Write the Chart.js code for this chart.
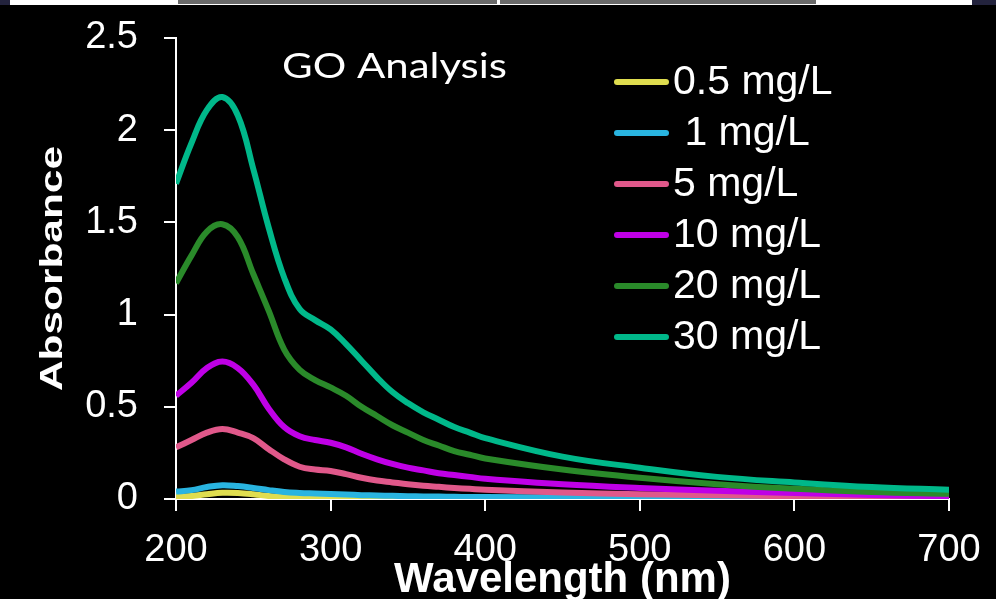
<!DOCTYPE html>
<html>
<head>
<meta charset="utf-8">
<script src="https://cdn.jsdelivr.net/npm/chart.js@4.4.1/dist/chart.umd.min.js"></script>
<style>
  body { margin: 0; background: #000; overflow: hidden; }
  #wrap { position: absolute; left: 0; top: 0; width: 996px; height: 599px; }
  .strip { position: absolute; top: 0; height: 5px; }
</style>
</head>
<body>
<div id="wrap">
  <canvas id="chart" width="996" height="599"></canvas>
</div>
<!-- leftover slide strip along the top edge -->
<div class="strip" style="left:0;width:10px;background:#23233d"></div>
<div class="strip" style="left:10px;width:962px;background:#fff"></div>
<div class="strip" style="left:178px;width:319px;background:#6a6a6a;height:4px"></div>
<div class="strip" style="left:500px;width:316px;background:#6a6a6a;height:4px"></div>
<div class="strip" style="left:972px;width:24px;background:#23233d"></div>
<script>
// DATA
const wavelengths = [200, 210, 220, 230, 240, 250, 260, 270, 280, 290, 300, 310, 320, 330, 340, 350, 360, 370, 380, 390, 400, 450, 500, 550, 600, 650, 700];

const conc05 = [0.012, 0.016, 0.026, 0.034, 0.033, 0.026, 0.016, 0.009, 0.006, 0.004, 0.003, 0.002, 0.002, 0.001, 0.001, 0, 0, 0, 0, 0, 0, 0, 0, 0, 0, 0, 0];
const conc1 = [0.04, 0.048, 0.065, 0.075, 0.07, 0.06, 0.048, 0.038, 0.033, 0.03, 0.027, 0.024, 0.021, 0.019, 0.017, 0.015, 0.014, 0.013, 0.012, 0.011, 0.011, 0.009, 0.008, 0.007, 0.006, 0.005, 0.005];
const conc5 = [0.28, 0.32, 0.36, 0.38, 0.36, 0.33, 0.27, 0.215, 0.175, 0.16, 0.152, 0.135, 0.115, 0.10, 0.09, 0.08, 0.072, 0.066, 0.06, 0.055, 0.05, 0.035, 0.026, 0.02, 0.015, 0.011, 0.008];
const conc10 = [0.56, 0.63, 0.71, 0.745, 0.71, 0.62, 0.49, 0.39, 0.34, 0.32, 0.305, 0.28, 0.245, 0.215, 0.19, 0.17, 0.155, 0.14, 0.13, 0.12, 0.11, 0.08, 0.06, 0.045, 0.032, 0.022, 0.015];
const conc20 = [1.17, 1.32, 1.45, 1.49, 1.42, 1.22, 1.02, 0.81, 0.70, 0.645, 0.605, 0.56, 0.50, 0.45, 0.40, 0.36, 0.32, 0.29, 0.26, 0.24, 0.22, 0.16, 0.115, 0.08, 0.055, 0.038, 0.028];
const conc30 = [1.71, 1.93, 2.11, 2.18, 2.08, 1.79, 1.47, 1.20, 1.03, 0.97, 0.92, 0.84, 0.75, 0.66, 0.58, 0.52, 0.47, 0.43, 0.39, 0.36, 0.33, 0.23, 0.17, 0.12, 0.09, 0.065, 0.05];

const seriesLabels = ["0.5 mg/L", " 1 mg/L", "5 mg/L", "10 mg/L", "20 mg/L", "30 mg/L"];
const seriesValues = [conc05, conc1, conc5, conc10, conc20, conc30];
const seriesColors = ["#dfdd4f", "#29b4e0", "#e0588a", "#bf00e6", "#2a8a2a", "#00b88a"];

const xTicks = [200, 300, 400, 500, 600, 700];
const yTicks = [0, 0.5, 1, 1.5, 2, 2.5];

const chartTitle = "GO Analysis";
const xTitle = "Wavelength (nm)";
const yTitle = "Absorbance";

const FONT = "'Liberation Sans', Arial, sans-serif";

// build datasets
const datasets = seriesLabels.map((label, i) => ({
  label: label,
  data: wavelengths.map((w, j) => ({ x: w, y: seriesValues[i][j] })),
  borderColor: seriesColors[i],
  backgroundColor: seriesColors[i],
  borderWidth: 6,
  pointRadius: 0,
  tension: 0.4,
  order: seriesLabels.length - i
}));

// title, y title and legend drawn inside the plot
const overlay = {
  id: "overlay",
  afterDraw(chart) {
    const ctx = chart.ctx;

    // chart title
    ctx.save();
    ctx.fillStyle = "#fff";
    ctx.font = "34px Lato, 'Open Sans', sans-serif";
    ctx.textBaseline = "alphabetic";
    const tw = ctx.measureText(chartTitle).width;
    ctx.translate(282, 78);
    ctx.scale(225 / tw, 1);
    ctx.fillText(chartTitle, 0, 0);
    ctx.restore();

    // y axis title
    ctx.save();
    ctx.fillStyle = "#fff";
    ctx.font = "bold 31px " + FONT;
    ctx.textAlign = "center";
    ctx.textBaseline = "middle";
    const yw = ctx.measureText(yTitle).width;
    ctx.translate(53, (chart.chartArea.top + chart.chartArea.bottom) / 2);
    ctx.rotate(-Math.PI / 2);
    ctx.scale(245 / yw, 1);
    ctx.fillText(yTitle, 0, 0);
    ctx.restore();

    // legend
    ctx.save();
    ctx.font = "41px " + FONT;
    ctx.textBaseline = "middle";
    ctx.lineCap = "round";
    ctx.lineWidth = 6;
    seriesLabels.forEach((label, i) => {
      const y = 82 + i * 51;
      ctx.strokeStyle = seriesColors[i];
      ctx.beginPath();
      ctx.moveTo(617, y);
      ctx.lineTo(666, y);
      ctx.stroke();
      ctx.fillStyle = "#fff";
      ctx.fillText(label, 673, y + 1);
    });
    ctx.restore();
  }
};

new Chart(document.getElementById("chart"), {
  type: "line",
  data: { datasets: datasets },
  options: {
    responsive: false,
    animation: false,
    devicePixelRatio: 1,
    layout: { padding: { left: 0, top: 38, right: 47, bottom: 0 } },
    plugins: {
      legend: { display: false },
      tooltip: { enabled: false }
    },
    scales: {
      x: {
        type: "linear",
        min: xTicks[0],
        max: xTicks[xTicks.length - 1],
        afterBuildTicks: scale => { scale.ticks = xTicks.map(v => ({ value: v })); },
        afterFit: scale => {
          scale.height = 100;
          scale.paddingLeft = 0;
          scale.paddingRight = 0;
        },
        border: { display: true, color: "#fff", width: 2 },
        grid: { drawOnChartArea: false, color: "#fff", lineWidth: 2, tickLength: 12 },
        ticks: {
          color: "#fff",
          font: { family: FONT, size: 38 },
          padding: 17,
          maxRotation: 0,
          autoSkip: false
        },
        title: {
          display: true,
          text: xTitle,
          color: "#fff",
          font: { family: FONT, size: 42, weight: "bold", lineHeight: 0.9 },
          padding: 0
        }
      },
      y: {
        min: yTicks[0],
        max: yTicks[yTicks.length - 1],
        afterBuildTicks: scale => { scale.ticks = yTicks.map(v => ({ value: v })); },
        afterFit: scale => {
          scale.width = 176;
          scale.paddingTop = 0;
          scale.paddingBottom = 0;
        },
        border: { display: true, color: "#fff", width: 2 },
        grid: { drawOnChartArea: false, color: "#fff", lineWidth: 2, tickLength: 12 },
        ticks: {
          color: "#fff",
          font: { family: FONT, size: 38 },
          padding: 26,
          callback: v => String(v)
        }
      }
    }
  },
  plugins: [overlay]
});
</script>
</body>
</html>
